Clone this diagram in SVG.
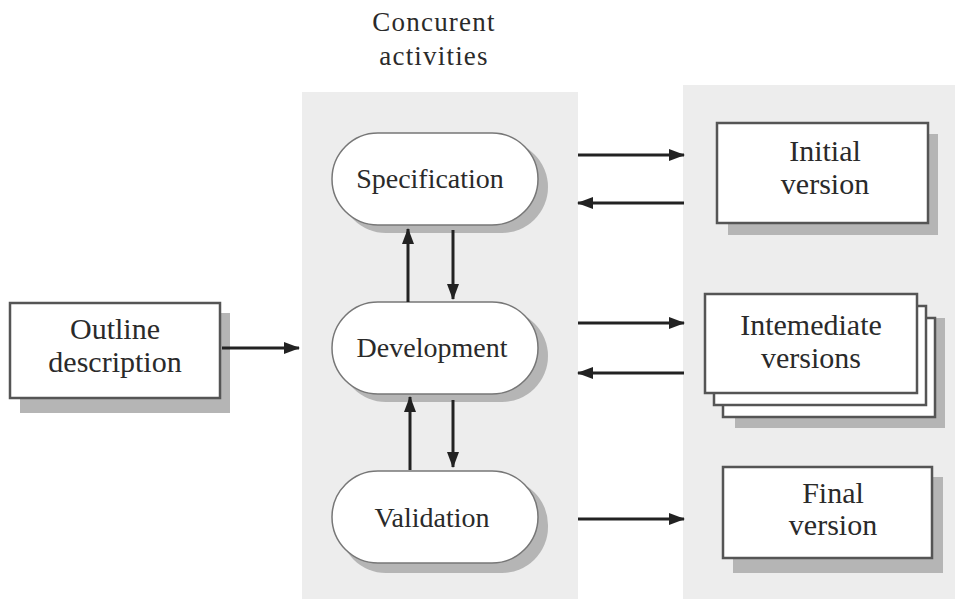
<svg xmlns="http://www.w3.org/2000/svg" width="955" height="599" viewBox="0 0 955 599">
<defs>
<marker id="ah" viewBox="0 0 16 12" refX="15" refY="6" markerWidth="16" markerHeight="12" markerUnits="userSpaceOnUse" orient="auto">
<path d="M0,0 L16,6 L0,12 Z" fill="#222"/>
</marker>
<style>
.t{font-family:"Liberation Serif","Times New Roman",serif;font-size:28px;fill:#2a2a2a;text-anchor:middle}
.b{font-size:30px}
.ti{font-size:27px;letter-spacing:1.2px}
.panel{fill:#ededed}
.sh{fill:#b5b5b5}
.pill{fill:#fff;stroke:#777;stroke-width:1.5}
.box{fill:#fff;stroke:#555;stroke-width:2.5}
.c{stroke:#222;stroke-width:3;fill:none;marker-end:url(#ah)}
</style>
</defs>
<rect width="955" height="599" fill="#fff"/>
<rect class="panel" x="302" y="92" width="276" height="507"/>
<rect class="panel" x="683" y="85" width="272" height="514"/>
<g id="title">
<text class="t ti" x="434" y="31">Concurent</text>
<text class="t ti" x="434" y="65">activities</text>
</g>
<g id="spec">
<rect class="sh" x="340" y="141" width="208" height="92" rx="46"/>
<rect class="pill" x="332" y="133" width="206" height="92" rx="46"/>
<text class="t" x="430" y="188">Specification</text>
</g>
<g id="dev">
<rect class="sh" x="340" y="310" width="208" height="92" rx="46"/>
<rect class="pill" x="332" y="302" width="206" height="92" rx="46"/>
<text class="t" x="432" y="357">Development</text>
</g>
<g id="val">
<rect class="sh" x="340" y="479" width="208" height="94" rx="46"/>
<rect class="pill" x="332" y="471" width="206" height="92" rx="46"/>
<text class="t" x="432" y="527">Validation</text>
</g>
<g id="outline">
<rect class="sh" x="20" y="313" width="210" height="100"/>
<rect class="box" x="10" y="303" width="210" height="95"/>
<text class="t b" x="115" y="339">Outline</text>
<text class="t b" x="115" y="372">description</text>
</g>
<g id="initial">
<rect class="sh" x="728" y="134" width="210" height="101"/>
<rect class="box" x="717" y="123" width="211" height="100"/>
<text class="t b" x="825" y="161">Initial</text>
<text class="t b" x="825" y="194">version</text>
</g>
<g id="intermediate">
<rect class="sh" x="735" y="318" width="210" height="110"/>
<rect class="box" x="723" y="318" width="212" height="99"/>
<rect class="box" x="714" y="306" width="212" height="99"/>
<rect class="box" x="705" y="294" width="212" height="99"/>
<text class="t b" x="811" y="335">Intemediate</text>
<text class="t b" x="811" y="368">versions</text>
</g>
<g id="final">
<rect class="sh" x="733" y="477" width="210" height="96"/>
<rect class="box" x="723" y="467" width="209" height="91"/>
<text class="t b" x="833" y="503">Final</text>
<text class="t b" x="833" y="535">version</text>
</g>
<g id="connectors">
<line class="c" x1="222" y1="348" x2="299" y2="348"/>
<line class="c" x1="408" y1="302" x2="408" y2="229"/>
<line class="c" x1="453" y1="230" x2="453" y2="299"/>
<line class="c" x1="410" y1="470" x2="410" y2="397"/>
<line class="c" x1="453" y1="400" x2="453" y2="467"/>
<line class="c" x1="578" y1="155" x2="684" y2="155"/>
<line class="c" x1="684" y1="203" x2="578" y2="203"/>
<line class="c" x1="578" y1="323" x2="684" y2="323"/>
<line class="c" x1="684" y1="373" x2="578" y2="373"/>
<line class="c" x1="578" y1="519" x2="684" y2="519"/>
</g>
</svg>
